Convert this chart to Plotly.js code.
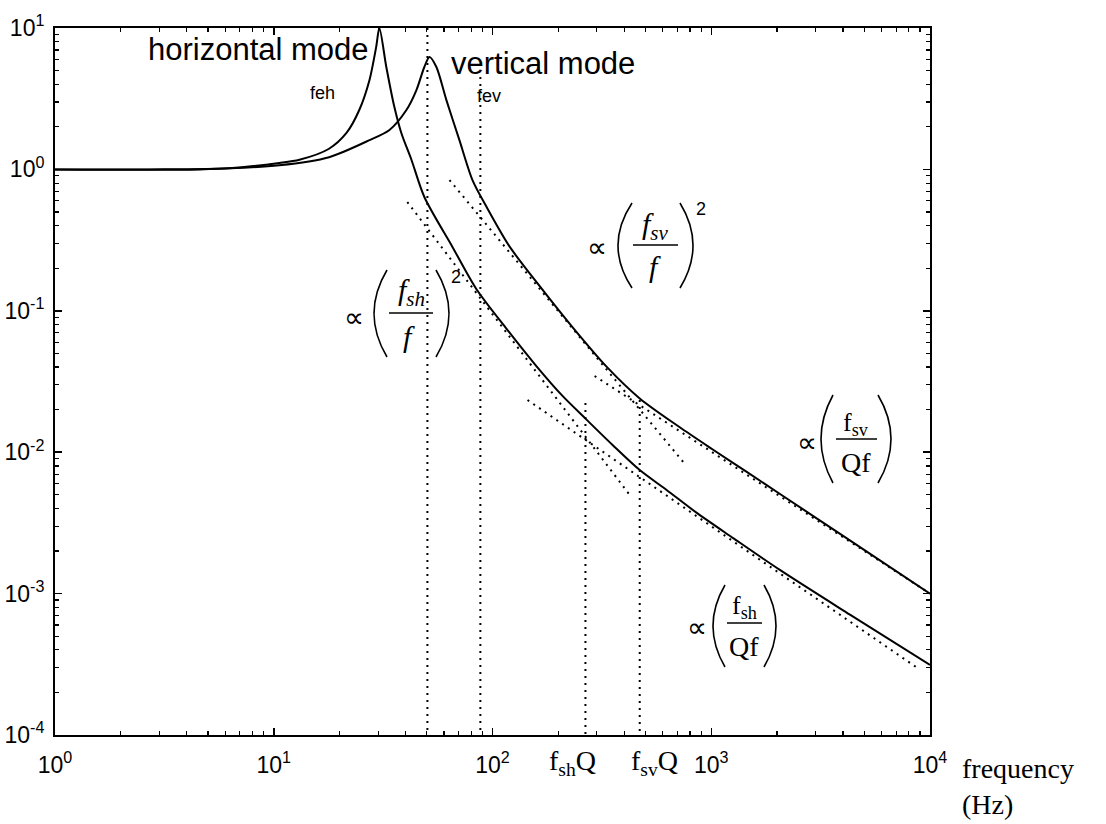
<!DOCTYPE html>
<html>
<head>
<meta charset="utf-8">
<script src="https://cdn.plot.ly/plotly-3.0.1.min.js"></script>
<style>
  html, body { margin: 0; padding: 0; background: #fff; }
  #chart { width: 1106px; height: 824px; }
</style>
</head>
<body>
<div id="chart"></div>
<script>
// Transfer function magnitude of the horizontal mode
const hFreq = [1, 2.69, 6.26, 10.6, 13.1, 17.9, 21.5, 24.6, 27.4, 29.4, 30.4, 32.7, 35.6, 38.3, 42.6, 48.8,
               65.6, 84.5, 116, 159, 209, 269, 354, 471, 625, 859, 1254, 2059, 4305, 10000];
const hAmp  = [1.0, 1.0, 1.02, 1.11, 1.17, 1.40, 1.81, 2.63, 4.29, 7.35, 10.0, 5.30, 2.76, 1.81, 1.17, 0.638,
               0.283, 0.142, 0.0745, 0.0405, 0.0250, 0.0170, 0.01125, 0.00748, 0.00541, 0.00372,
               0.00248, 0.00147, 7.1e-4, 3.13e-4];

// Transfer function magnitude of the vertical mode
const vFreq = [1, 4.56, 10.6, 17.9, 27.4, 33.8, 40.4, 44.9, 48.8, 51.5, 55.4, 61.5, 70.6, 81.0,
               94.0, 120, 164, 232, 333, 471, 718, 1016, 1453, 2915, 5902, 10000];
const vAmp  = [1.0, 1.0, 1.07, 1.22, 1.61, 1.90, 2.63, 3.64, 5.30, 6.24, 5.30, 3.10, 1.61, 0.841,
               0.542, 0.283, 0.150, 0.0767, 0.0401, 0.0240, 0.0150, 0.01045, 0.00725, 0.00355,
               0.00172, 1.0e-3];

// Asymptotes (dotted): f^-2 and f^-1 regimes
const hSteepF = [40.8, 424],   hSteepA = [0.588, 0.00498];
const hFlatF  = [144.6, 8700], hFlatA  = [0.0234, 3.0e-4];
const vSteepF = [63.6, 764],   vSteepA = [0.841, 0.00813];
const vFlatF  = [293, 10000],  vFlatA  = [0.0346, 1.0e-3];

// Vertical marker lines: f_sh, f_sv, f_sh*Q, f_sv*Q
const markFreq = [50.4, 88, 266, 471];
const markTop  = [10, 4.5, 0.0223, 0.0234];
const axisFloor = 1e-4;

// Tick labels
const xTickVals = [1, 10, 100, 1000, 10000];
const xTickText = ['10<sup>0</sup>', '10<sup>1</sup>', '10<sup>2</sup>', '10<sup>3</sup>', '10<sup>4</sup>'];
const yTickVals = [1e-4, 1e-3, 1e-2, 1e-1, 1, 10];
const yTickText = ['10<sup>-4</sup>', '10<sup>-3</sup>', '10<sup>-2</sup>', '10<sup>-1</sup>', '10<sup>0</sup>', '10<sup>1</sup>'];

function minorTicks(d0, d1) {
  const out = [];
  for (let d = d0; d < d1; d++) for (let k = 2; k <= 9; k++) out.push(k * Math.pow(10, d));
  return out;
}

// Plot frame in pixels
const L = 55, R = 930, T = 28, B = 735;
const W = R - L, H = B - T;
const px = x => (x - L) / W;
const py = y => (B - y) / H;

const solid = {color: '#000', width: 2, shape: 'spline', smoothing: 0.8};
const dotted = {color: '#000', width: 2, dash: '2px,5px'};

const traces = [];
const line = (x, y, style) => traces.push({x, y, type: 'scatter', mode: 'lines', line: style,
                                         hoverinfo: 'skip', showlegend: false});
line(hFreq, hAmp, solid);
line(vFreq, vAmp, solid);
line(hSteepF, hSteepA, dotted);
line(hFlatF, hFlatA, dotted);
line(vSteepF, vSteepA, dotted);
line(vFlatF, vFlatA, dotted);
markFreq.forEach((f, i) => line([f, f], [markTop[i], axisFloor], dotted));

// Text helpers
const serif = 'Liberation Serif, Times New Roman, serif';
const sans = 'Liberation Sans, Arial, Helvetica, sans-serif';
function note(text, x, y, size, family, extra) {
  return Object.assign({
    xref: 'paper', yref: 'paper', x: px(x), y: py(y), text,
    showarrow: false, xanchor: 'center', yanchor: 'middle',
    font: {family, size, color: '#000'}
  }, extra || {});
}
function paren(tipX, bulgeX, y0, y1) {
  const cx = 2 * bulgeX - tipX, ym = (y0 + y1) / 2;
  return {type: 'path', xref: 'paper', yref: 'paper',
          path: `M${px(tipX)},${py(y0)} Q${px(cx)},${py(ym)} ${px(tipX)},${py(y1)}`,
          line: {color: '#000', width: 1.6}};
}
function bar(x0, x1, y) {
  return {type: 'line', xref: 'paper', yref: 'paper', x0: px(x0), x1: px(x1), y0: py(y), y1: py(y),
          line: {color: '#000', width: 1.5}};
}

const annotations = [
  note('horizontal mode', 146, 50, 31, sans, {xanchor: 'left'}),
  note('vertical mode', 449, 63, 31, sans, {xanchor: 'left'}),
  note('feh', 308, 93, 18, sans, {xanchor: 'left'}),
  note('fev', 475, 96, 18, sans, {xanchor: 'left'}),

  // ∝ (f_sh / f)^2
  note('\u221D', 354, 317, 28, serif),
  note('<i>f</i><sub><i>sh</i></sub>', 411, 292, 30, serif),
  note('<i>f</i>', 409, 336, 30, serif),
  note('2', 456, 277, 18, sans),

  // ∝ (f_sv / f)^2
  note('\u221D', 597, 248, 28, serif),
  note('<i>f</i><sub><i>sv</i></sub>', 655, 226, 30, serif),
  note('<i>f</i>', 655, 266, 30, serif),
  note('2', 701, 209, 18, sans),

  // ∝ (f_sv / Qf)
  note('\u221D', 807, 443, 28, serif),
  note('f<sub>sv</sub>', 856, 424, 26, serif),
  note('Qf', 856, 462, 28, serif),

  // ∝ (f_sh / Qf)
  note('\u221D', 697, 627, 28, serif),
  note('f<sub>sh</sub>', 744, 607, 26, serif),
  note('Qf', 744, 646, 28, serif),

  // Crossover frequencies under the axis
  note('f<sub>sh</sub>Q', 572, 762, 28, serif),
  note('f<sub>sv</sub>Q', 654, 762, 28, serif),

  note('frequency', 960, 768, 28, serif, {xanchor: 'left'}),
  note('(Hz)', 960, 804, 28, serif, {xanchor: 'left'})
];

const shapes = [
  paren(387, 374, 270, 357), paren(436, 449, 270, 357), bar(389, 433, 313),
  paren(632, 618, 203, 288), paren(680, 693, 203, 288), bar(633, 678, 245),
  paren(833, 821, 395, 483), paren(878, 891, 395, 483), bar(836, 877, 439),
  paren(725, 713, 585, 667), paren(764, 776, 585, 667), bar(727, 762, 623)
];

const axisCommon = {
  type: 'log', showline: true, linecolor: '#000', linewidth: 2, mirror: 'ticks',
  ticks: 'inside', ticklen: 7, tickwidth: 1.5, tickcolor: '#000',
  showgrid: false, zeroline: false, tickmode: 'array',
  tickfont: {family: sans, size: 23, color: '#000'}
};

const layout = {
  width: 1106, height: 824, autosize: false,
  margin: {l: L, r: 1106 - R, t: T, b: 824 - B, pad: 0},
  paper_bgcolor: '#fff', plot_bgcolor: '#fff',
  showlegend: false,
  xaxis: Object.assign({}, axisCommon, {
    range: [0, 4], tickvals: xTickVals, ticktext: xTickText, ticklabelstandoff: 8,
    minor: {tickmode: 'array', tickvals: minorTicks(0, 4), ticks: 'inside', ticklen: 4,
            tickwidth: 1.2, tickcolor: '#000', showgrid: false}
  }),
  yaxis: Object.assign({}, axisCommon, {
    range: [-4, 1], tickvals: yTickVals, ticktext: yTickText, ticklabelstandoff: 4,
    minor: {tickmode: 'array', tickvals: minorTicks(-4, 1), ticks: 'inside', ticklen: 4,
            tickwidth: 1.2, tickcolor: '#000', showgrid: false}
  }),
  annotations, shapes
};

Plotly.newPlot('chart', traces, layout, {staticPlot: true, displayModeBar: false});
</script>
</body>
</html>
